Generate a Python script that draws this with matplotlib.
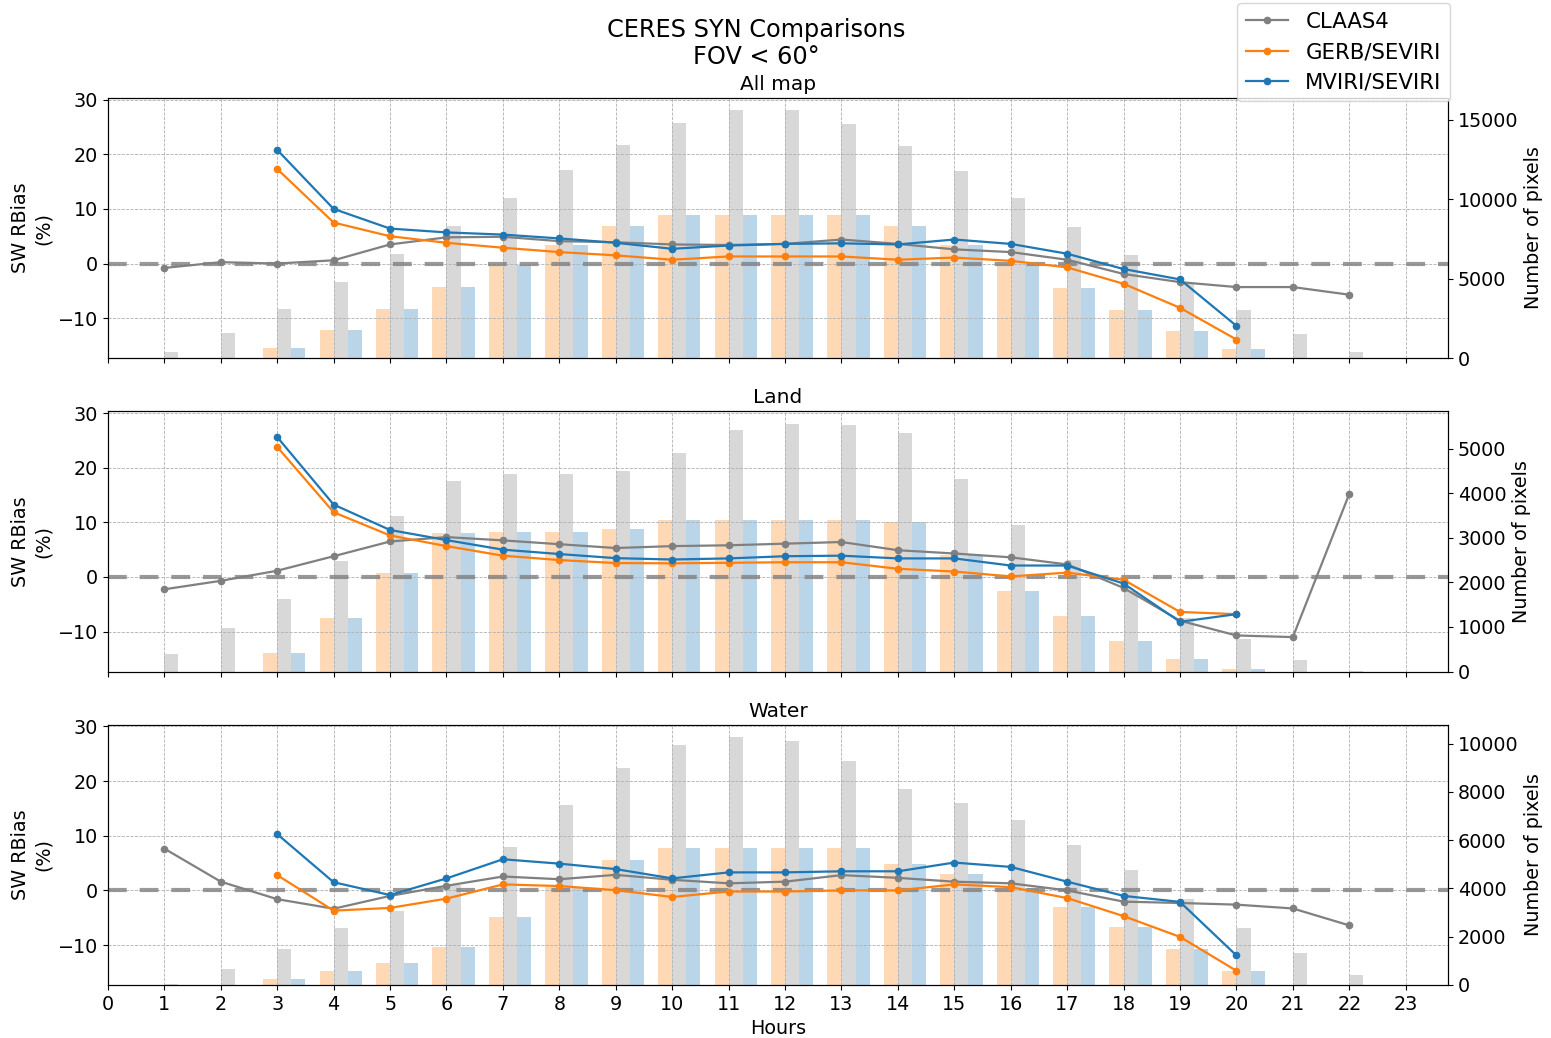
import numpy as np
import matplotlib.pyplot as plt

hours = np.arange(1, 23)
panels = ["All map", "Land", "Water"]

# SW relative bias (%) per hour, 1..22 (None = no data)
claas_all = [-0.8, 0.25, 0.0, 0.6, 3.5, 4.8, 4.9, 4.1, 3.9, 3.5, 3.4, 3.6,
             4.4, 3.6, 2.6, 2.1, 0.7, -1.9, -3.4, -4.3, -4.3, -5.7]
gerb_all = [None, None, 17.3, 7.5, 5.0, 3.8, 2.9, 2.1, 1.5, 0.7, 1.3, 1.3,
            1.3, 0.7, 1.1, 0.5, -0.7, -3.7, -8.1, -13.9, None, None]
mviri_all = [None, None, 20.8, 10.0, 6.4, 5.7, 5.3, 4.6, 3.8, 2.7, 3.3, 3.6,
             3.7, 3.5, 4.4, 3.6, 1.8, -1.0, -2.9, -11.4, None, None]

claas_land = [-2.25, -0.7, 1.15, 3.8, 6.5, 7.3, 6.7, 6.0, 5.3, 5.65, 5.8, 6.1,
              6.4, 4.9, 4.3, 3.6, 2.3, -2.0, -8.0, -10.7, -11.0, 15.2]
gerb_land = [None, None, 23.8, 11.85, 7.6, 5.65, 3.9, 3.1, 2.55, 2.5, 2.6, 2.7,
             2.7, 1.5, 1.0, 0.1, 0.8, -0.5, -6.4, -6.8, None, None]
mviri_land = [None, None, 25.6, 13.25, 8.6, 6.75, 5.0, 4.2, 3.45, 3.2, 3.4, 3.8,
              3.9, 3.4, 3.4, 2.1, 2.1, -1.2, -8.2, -6.8, None, None]

claas_water = [7.65, 1.6, -1.6, -3.35, -1.0, 0.85, 2.55, 2.05, 2.85, 1.95, 1.3, 1.6,
               2.8, 2.3, 1.6, 1.3, 0.0, -2.05, -2.3, -2.6, -3.3, -6.4]
gerb_water = [None, None, 2.8, -3.7, -3.2, -1.5, 1.1, 0.8, 0.05, -1.2, -0.2, -0.2,
              0.0, 0.0, 1.1, 0.6, -1.4, -4.7, -8.5, -14.7, None, None]
mviri_water = [None, None, 10.3, 1.5, -0.85, 2.2, 5.7, 4.9, 3.9, 2.2, 3.3, 3.3,
               3.5, 3.5, 5.1, 4.3, 1.6, -1.0, -2.1, -11.9, None, None]

# number of pixels per hour
n_claas_all = [400, 1600, 3110, 4770, 6530, 8340, 10100, 11820, 13440, 14780, 15600, 15600,
               14740, 13380, 11800, 10060, 8270, 6490, 4700, 3050, 1530, 380]
n_seviri_all = [0, 0, 630, 1790, 3070, 4450, 5840, 7140, 8320, 9010, 9010, 9010,
                9000, 8300, 7140, 5880, 4430, 3045, 1720, 570, 0, 0]

n_claas_land = [390, 980, 1630, 2480, 3500, 4270, 4430, 4440, 4490, 4910, 5410, 5560,
                5540, 5360, 4330, 3280, 2510, 1800, 1200, 730, 260, 5]
n_seviri_land = [0, 0, 420, 1210, 2210, 3100, 3130, 3130, 3190, 3400, 3400, 3410,
                 3410, 3350, 2610, 1800, 1250, 690, 280, 60, 0, 0]

n_claas_water = [40, 660, 1500, 2350, 3060, 4130, 5715, 7470, 9010, 9940, 10270, 10130,
                 9290, 8110, 7530, 6830, 5810, 4750, 3550, 2350, 1310, 415]
n_seviri_water = [0, 0, 235, 580, 910, 1570, 2800, 4070, 5190, 5670, 5670, 5670,
                  5670, 5010, 4610, 4000, 3230, 2390, 1490, 565, 0, 0]

bias = {
    "All map": (claas_all, gerb_all, mviri_all),
    "Land": (claas_land, gerb_land, mviri_land),
    "Water": (claas_water, gerb_water, mviri_water),
}
counts = {
    "All map": (n_claas_all, n_seviri_all),
    "Land": (n_claas_land, n_seviri_land),
    "Water": (n_claas_water, n_seviri_water),
}

names = ["CLAAS4", "GERB/SEVIRI", "MVIRI/SEVIRI"]
colors = ["grey", "tab:orange", "tab:blue"]


def as_float(v):
    return np.array([np.nan if x is None else x for x in v], dtype=float)


fig, axes = plt.subplots(3, 1, figsize=(15.51, 10.38), dpi=100, sharex=True, sharey=True)
fig.subplots_adjust(left=0.0696, right=0.9336, top=0.9056, bottom=0.0511, hspace=0.205)

for ax, name in zip(axes, panels):
    ax2 = ax.twinx()
    nc, ns = counts[name]
    nc = np.array(nc)
    ns = np.array(ns)
    w = 0.25
    m = ns > 0
    ax2.bar(hours[m] - w, ns[m], width=w, align="edge", color="tab:orange", alpha=0.3)
    ax2.bar(hours, nc, width=w, align="edge", color="grey", alpha=0.3)
    ax2.bar(hours[m] + w, ns[m], width=w, align="edge", color="tab:blue", alpha=0.3)
    ax2.set_ylabel("Number of pixels", fontsize=13.8)
    ax2.tick_params(labelsize=13.8)

    # lines above the bars of the twin axis
    ax.set_zorder(ax2.get_zorder() + 1)
    ax.patch.set_visible(False)

    ax.axhline(0, color="grey", lw=3, ls=(0, (4.5, 3.1)), alpha=0.8)
    for vals, lab, c in zip(bias[name], names, colors):
        ax.plot(hours, as_float(vals), "-o", color=c, lw=1.6, ms=4.5, label=lab)

    ax.set_title(name, fontsize=14.5)
    ax.set_ylabel("SW RBias\n(%)", fontsize=13.8)
    ax.tick_params(labelsize=13.8)
    ax.grid(ls="--", lw=0.6, color="#b0b0b0")

axes[0].set_ylim(-17.3, 30.3)
axes[0].set_yticks([-10, 0, 10, 20, 30])
axes[0].set_xlim(0, 23.75)
axes[0].set_xticks(np.arange(0, 24))
axes[-1].set_xlabel("Hours", fontsize=13.8)

handles, labels = axes[0].get_legend_handles_labels()
fig.legend(handles, labels, loc="upper right", bbox_to_anchor=(0.935, 0.997),
           fontsize=15.3, borderaxespad=0)
fig.suptitle("CERES SYN Comparisons\nFOV < 60°", x=0.4875, y=0.983, fontsize=17.3)

fig.savefig("out.png", dpi=100)
